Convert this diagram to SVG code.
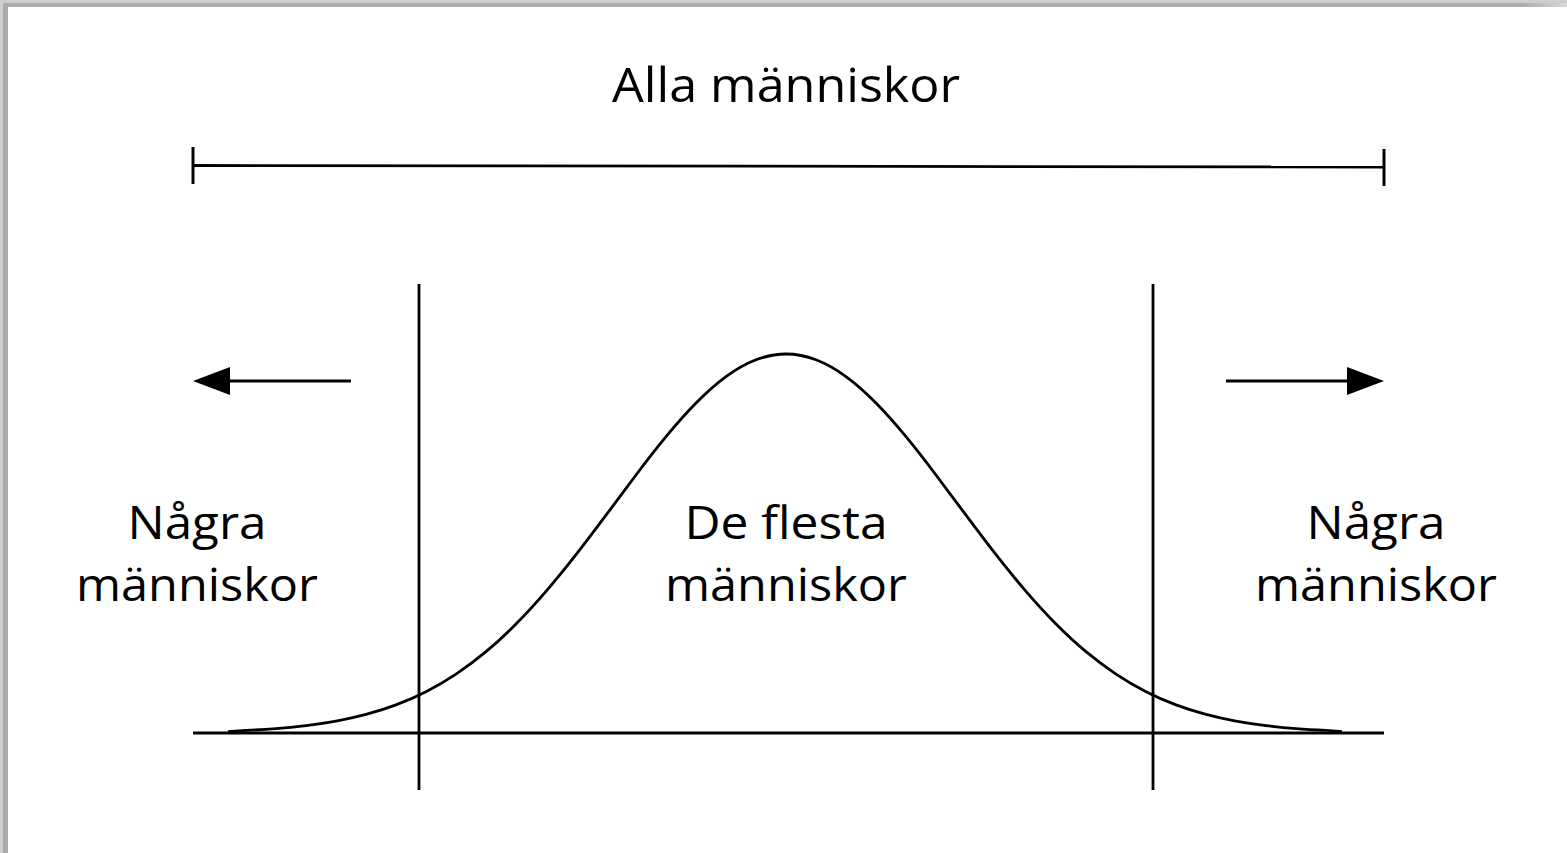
<svg xmlns="http://www.w3.org/2000/svg" width="1567" height="853" viewBox="0 0 1567 853">
  <style>
    .ln { stroke: #000; stroke-width: 2.8; fill: none; }
    .tk { stroke: #000; stroke-width: 3; fill: none; }
    .lbl { font-family: "Open Sans", "Liberation Sans", sans-serif; font-weight: 500; fill: #000; text-anchor: middle; }
  </style>
  <defs>
    <marker id="ah" viewBox="0 0 10 10" refX="0" refY="5" markerWidth="37" markerHeight="28" markerUnits="userSpaceOnUse" orient="auto" preserveAspectRatio="none">
      <path d="M0,0 L10,5 L0,10 Z" fill="#000"/>
    </marker>
    <linearGradient id="fadeR" x1="0" x2="1" y1="0" y2="0">
      <stop offset="0.97" stop-color="#ababab"/>
      <stop offset="1" stop-color="#d8d8d8"/>
    </linearGradient>
  </defs>
  <rect width="1567" height="853" fill="#fff"/>
  <g id="frame">
    <rect x="0" y="0" width="1567" height="7" fill="#cfcfcf"/>
    <rect x="3" y="3" width="1564" height="4" fill="url(#fadeR)"/>
    <rect x="0" y="0" width="8" height="853" fill="#cfcfcf"/>
    <rect x="3" y="3" width="5" height="850" fill="#ababab"/>
  </g>

  <g id="title">
    <text class="lbl" x="786" y="102" font-size="48" textLength="348" lengthAdjust="spacingAndGlyphs">Alla människor</text>
  </g>
  <g id="range-bar">
    <line class="ln" x1="193" y1="165.5" x2="1384" y2="167"/>
    <line class="tk" x1="193" y1="147" x2="193" y2="184"/>
    <line class="tk" x1="1384" y1="149" x2="1384" y2="186"/>
  </g>

  <g id="axes">
    <line class="ln" x1="193" y1="733" x2="1384" y2="733"/>
    <line class="ln" x1="419" y1="284" x2="419" y2="790"/>
    <line class="ln" x1="1153" y1="284" x2="1153" y2="790"/>
  </g>

  <g id="curve">
    <path class="ln" d="M228,731.6 L246,730.4 C256,729.92 266,729.37 276,728.6 C286,727.83 296,726.81 306,725.6 C316,724.39 326,722.93 336,721.1 C346,719.27 356,717.07 366,714.4 C376,711.73 386,708.65 396,704.9 C406,701.15 416,696.78 426,691.7 C436,686.62 446,680.75 456,674.1 C466,667.45 476,660.04 486,651.7 C496,643.36 506,634.06 516,624.0 C526,613.94 536,603.02 546,591.4 C556,579.78 566,567.5 576,554.7 C586,541.9 596,528.61 606,515.2 C616,501.79 626,488.23 636,475.0 C646,461.77 656,448.86 666,436.7 C676,424.54 686,413.16 696,403.0 C706,392.84 716,383.91 726,376.6 C736,369.29 746,363.63 756,359.8 C766,355.97 776,354 786,354 C796,354 806,355.97 816,359.8 C826,363.63 836,369.29 846,376.6 C856,383.91 866,392.84 876,403.0 C886,413.16 896,424.54 906,436.7 C916,448.86 926,461.77 936,475.0 C946,488.23 956,501.79 966,515.2 C976,528.61 986,541.9 996,554.7 C1006,567.5 1016,579.78 1026,591.4 C1036,603.02 1046,613.94 1056,624.0 C1066,634.06 1076,643.36 1086,651.7 C1096,660.04 1106,667.45 1116,674.1 C1126,680.75 1136,686.62 1146,691.7 C1156,696.78 1166,701.15 1176,704.9 C1186,708.65 1196,711.73 1206,714.4 C1216,717.07 1226,719.27 1236,721.1 C1246,722.93 1256,724.39 1266,725.6 C1276,726.81 1286,727.83 1296,728.6 C1306,729.37 1316,729.92 1326,730.4 L1342,731.6"/>
  </g>

  <g id="connectors">
    <line class="ln" x1="351" y1="381" x2="230" y2="381" marker-end="url(#ah)"/>
    <line class="ln" x1="1226" y1="381" x2="1347" y2="381" marker-end="url(#ah)"/>
  </g>

  <g id="left-label">
    <text class="lbl" x="197" y="539" font-size="45" textLength="139" lengthAdjust="spacingAndGlyphs">Några</text>
    <text class="lbl" x="197" y="601" font-size="45" textLength="242" lengthAdjust="spacingAndGlyphs">människor</text>
  </g>
  <g id="center-label">
    <text class="lbl" x="786" y="539" font-size="45" textLength="203" lengthAdjust="spacingAndGlyphs">De flesta</text>
    <text class="lbl" x="786" y="601" font-size="45" textLength="242" lengthAdjust="spacingAndGlyphs">människor</text>
  </g>
  <g id="right-label">
    <text class="lbl" x="1376" y="539" font-size="45" textLength="139" lengthAdjust="spacingAndGlyphs">Några</text>
    <text class="lbl" x="1376" y="601" font-size="45" textLength="242" lengthAdjust="spacingAndGlyphs">människor</text>
  </g>
</svg>
